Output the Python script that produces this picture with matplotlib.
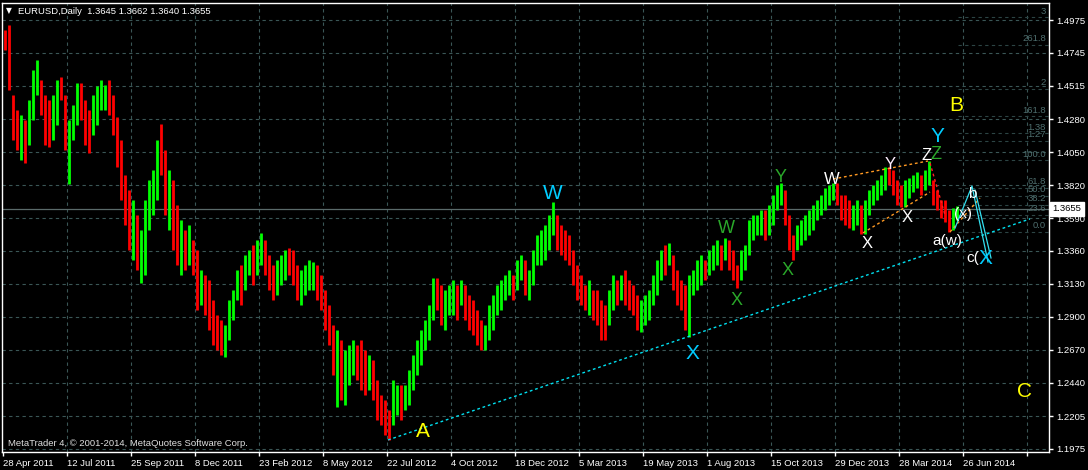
import matplotlib
matplotlib.use('Agg')
import numpy as np
import matplotlib.pyplot as plt

# EURUSD daily, grouped 4 bars per mark, first group starts 28 Apr 2011
highs = [1.4905, 1.4940, 1.4451, 1.4346, 1.4311, 1.4276, 1.4416, 1.4626, 1.4695, 1.4556,
         1.4451, 1.4416, 1.4451, 1.4556, 1.4577, 1.4451, 1.4276, 1.4381, 1.4535, 1.4535,
         1.4416, 1.4346, 1.4451, 1.4514, 1.4556, 1.4521, 1.4556, 1.4451, 1.4297, 1.4136,
         1.3891, 1.3786, 1.3716, 1.3611, 1.3507, 1.3716, 1.3856, 1.3926, 1.4136, 1.4248,
         1.4066, 1.3926, 1.3856, 1.3681, 1.3577, 1.3507, 1.3542, 1.3437, 1.3367, 1.3227,
         1.3192, 1.3157, 1.3017, 1.2912, 1.2877, 1.2842, 1.3017, 1.3087, 1.3227, 1.3262,
         1.3332, 1.3367, 1.3402, 1.3437, 1.3486, 1.3437, 1.3332, 1.3262, 1.3297, 1.3332,
         1.3367, 1.3381, 1.3367, 1.3262, 1.3227, 1.3262, 1.3297, 1.3283, 1.3262, 1.3192,
         1.3087, 1.2982, 1.2842, 1.2807, 1.2737, 1.2667, 1.2702, 1.2737, 1.2702, 1.2737,
         1.2667, 1.2632, 1.2597, 1.2458, 1.2353, 1.2318, 1.2248, 1.2458, 1.2423, 1.2423,
         1.2423, 1.2527, 1.2632, 1.2737, 1.2807, 1.2877, 1.2982, 1.3171, 1.3171, 1.3122,
         1.3087, 1.3122, 1.3157, 1.3122, 1.3157, 1.3122, 1.3052, 1.3017, 1.2947, 1.2877,
         1.2842, 1.2982, 1.3052, 1.3122, 1.3157, 1.3192, 1.3227, 1.3192, 1.3297, 1.3332,
         1.3297, 1.3227, 1.3367, 1.3472, 1.3507, 1.3542, 1.3611, 1.3702, 1.3611, 1.3542,
         1.3507, 1.3472, 1.3367, 1.3262, 1.3192, 1.3122, 1.3157, 1.3087, 1.3087, 1.3017,
         1.2982, 1.3087, 1.3192, 1.3157, 1.3192, 1.3227, 1.3157, 1.3122, 1.3052, 1.3017,
         1.3052, 1.3087, 1.3192, 1.3297, 1.3367, 1.3402, 1.3416, 1.3332, 1.3227, 1.3157,
         1.3122, 1.3192, 1.3227, 1.3297, 1.3332, 1.3297, 1.3367, 1.3402, 1.3437, 1.3402,
         1.3451, 1.3437, 1.3367, 1.3262, 1.3367, 1.3402, 1.3577, 1.3611, 1.3611, 1.3646,
         1.3646, 1.3681, 1.3751, 1.3821, 1.3835, 1.3786, 1.3611, 1.3472, 1.3542, 1.3577,
         1.3611, 1.3646, 1.3681, 1.3716, 1.3751, 1.3800, 1.3821, 1.3835, 1.3835, 1.3751,
         1.3751, 1.3716, 1.3681, 1.3716, 1.3681, 1.3716, 1.3786, 1.3821, 1.3856, 1.3891,
         1.3947, 1.3947, 1.3926, 1.3856, 1.3821, 1.3856, 1.3870, 1.3891, 1.3912, 1.3891,
         1.3926, 1.3989, 1.3856, 1.3786, 1.3716, 1.3716, 1.3646, 1.3660, 1.3674]
lows = [1.4765, 1.4486, 1.4136, 1.4066, 1.3996, 1.3975, 1.4101, 1.4276, 1.4451, 1.4311,
        1.4101, 1.4087, 1.4136, 1.4241, 1.4416, 1.4066, 1.3828, 1.4136, 1.4241, 1.4276,
        1.4101, 1.4045, 1.4171, 1.4241, 1.4346, 1.4346, 1.4311, 1.4171, 1.3947, 1.3716,
        1.3542, 1.3367, 1.3297, 1.3227, 1.3136, 1.3192, 1.3507, 1.3611, 1.3716, 1.3891,
        1.3611, 1.3507, 1.3367, 1.3262, 1.3192, 1.3227, 1.3262, 1.3192, 1.2947, 1.2982,
        1.2912, 1.2807, 1.2702, 1.2667, 1.2632, 1.2618, 1.2737, 1.2877, 1.3017, 1.2982,
        1.3087, 1.3192, 1.3122, 1.3192, 1.3262, 1.3192, 1.3087, 1.3017, 1.3052, 1.3122,
        1.3157, 1.3192, 1.3122, 1.3017, 1.2982, 1.3052, 1.3087, 1.3087, 1.3017, 1.2947,
        1.2807, 1.2702, 1.2493, 1.2269, 1.2318, 1.2283, 1.2423, 1.2493, 1.2458, 1.2388,
        1.2353, 1.2388, 1.2318, 1.2178, 1.2143, 1.2073, 1.2038, 1.2143, 1.2213, 1.2178,
        1.2248, 1.2283, 1.2388, 1.2493, 1.2562, 1.2667, 1.2737, 1.2877, 1.2947, 1.2842,
        1.2807, 1.2912, 1.2912, 1.2877, 1.2982, 1.2877, 1.2807, 1.2772, 1.2702, 1.2667,
        1.2667, 1.2737, 1.2807, 1.2912, 1.2947, 1.3017, 1.3052, 1.3017, 1.3087, 1.3157,
        1.3052, 1.3017, 1.3122, 1.3262, 1.3262, 1.3297, 1.3367, 1.3472, 1.3367, 1.3332,
        1.3297, 1.3262, 1.3122, 1.3017, 1.2982, 1.2947, 1.2912, 1.2877, 1.2842, 1.2737,
        1.2737, 1.2842, 1.2947, 1.2982, 1.3017, 1.2982, 1.2947, 1.2912, 1.2807, 1.2793,
        1.2842, 1.2877, 1.2982, 1.3052, 1.3157, 1.3192, 1.3262, 1.3087, 1.2982, 1.2947,
        1.2807, 1.2758, 1.3052, 1.3087, 1.3122, 1.3157, 1.3192, 1.3227, 1.3262, 1.3227,
        1.3297, 1.3227, 1.3157, 1.3101, 1.3157, 1.3227, 1.3332, 1.3437, 1.3472, 1.3472,
        1.3437, 1.3472, 1.3542, 1.3646, 1.3681, 1.3542, 1.3367, 1.3297, 1.3367, 1.3402,
        1.3437, 1.3472, 1.3507, 1.3577, 1.3611, 1.3646, 1.3681, 1.3716, 1.3681, 1.3577,
        1.3542, 1.3521, 1.3507, 1.3542, 1.3479, 1.3479, 1.3611, 1.3681, 1.3716, 1.3751,
        1.3786, 1.3821, 1.3751, 1.3681, 1.3667, 1.3667, 1.3730, 1.3772, 1.3800, 1.3751,
        1.3786, 1.3821, 1.3681, 1.3646, 1.3591, 1.3563, 1.3493, 1.3507, 1.3577]
closes = [1.4835, 1.4521, 1.4276, 1.4136, 1.4206, 1.4136, 1.4346, 1.4556, 1.4556, 1.4346,
          1.4276, 1.4206, 1.4346, 1.4486, 1.4451, 1.4136, 1.4206, 1.4311, 1.4451, 1.4346,
          1.4276, 1.4241, 1.4416, 1.4451, 1.4451, 1.4486, 1.4416, 1.4241, 1.4066, 1.3786,
          1.3611, 1.3472, 1.3577, 1.3297, 1.3437, 1.3646, 1.3751, 1.3821, 1.4066, 1.3961,
          1.3716, 1.3786, 1.3507, 1.3402, 1.3437, 1.3367, 1.3367, 1.3262, 1.3087, 1.3122,
          1.3017, 1.2877, 1.2807, 1.2737, 1.2702, 1.2807, 1.2947, 1.3017, 1.3192, 1.3087,
          1.3262, 1.3297, 1.3227, 1.3367, 1.3402, 1.3297, 1.3157, 1.3122, 1.3192, 1.3262,
          1.3332, 1.3297, 1.3192, 1.3087, 1.3157, 1.3192, 1.3192, 1.3227, 1.3087, 1.3017,
          1.2877, 1.2772, 1.2597, 1.2702, 1.2458, 1.2527, 1.2632, 1.2667, 1.2597, 1.2527,
          1.2458, 1.2493, 1.2388, 1.2318, 1.2248, 1.2178, 1.2143, 1.2318, 1.2353, 1.2248,
          1.2353, 1.2458, 1.2597, 1.2632, 1.2737, 1.2807, 1.2947, 1.3122, 1.3017, 1.2947,
          1.2982, 1.3017, 1.3052, 1.2947, 1.3087, 1.2982, 1.2912, 1.2842, 1.2807, 1.2772,
          1.2807, 1.2912, 1.3017, 1.3087, 1.3087, 1.3122, 1.3157, 1.3122, 1.3227, 1.3262,
          1.3122, 1.3122, 1.3297, 1.3402, 1.3402, 1.3437, 1.3542, 1.3611, 1.3472, 1.3437,
          1.3402, 1.3332, 1.3227, 1.3087, 1.3052, 1.3017, 1.3017, 1.2982, 1.2912, 1.2877,
          1.2842, 1.3017, 1.3122, 1.3052, 1.3122, 1.3052, 1.3017, 1.2982, 1.2877, 1.2912,
          1.2947, 1.3017, 1.3122, 1.3227, 1.3332, 1.3297, 1.3332, 1.3157, 1.3087, 1.3017,
          1.2982, 1.3122, 1.3157, 1.3227, 1.3262, 1.3227, 1.3332, 1.3332, 1.3367, 1.3332,
          1.3402, 1.3297, 1.3227, 1.3192, 1.3297, 1.3367, 1.3542, 1.3542, 1.3577, 1.3577,
          1.3507, 1.3611, 1.3716, 1.3786, 1.3786, 1.3611, 1.3437, 1.3402, 1.3472, 1.3542,
          1.3577, 1.3611, 1.3646, 1.3681, 1.3716, 1.3751, 1.3751, 1.3786, 1.3716, 1.3646,
          1.3611, 1.3577, 1.3611, 1.3646, 1.3542, 1.3681, 1.3716, 1.3786, 1.3821, 1.3821,
          1.3912, 1.3891, 1.3786, 1.3751, 1.3716, 1.3786, 1.3821, 1.3856, 1.3856, 1.3821,
          1.3891, 1.3891, 1.3751, 1.3681, 1.3646, 1.3611, 1.3577, 1.3611, 1.3655]
first_open = 1.4860
bars_per_mark = 4

price_ticks = [1.4975, 1.4745, 1.4515, 1.4280, 1.4050, 1.3820, 1.3590,
               1.3360, 1.3130, 1.2900, 1.2670, 1.2440, 1.2205, 1.1975]
date_labels = ['28 Apr 2011', '12 Jul 2011', '25 Sep 2011', '8 Dec 2011', '23 Feb 2012',
               '8 May 2012', '22 Jul 2012', '4 Oct 2012', '18 Dec 2012', '5 Mar 2013',
               '19 May 2013', '1 Aug 2013', '15 Oct 2013', '29 Dec 2013', '28 Mar 2014',
               '26 Jun 2014', '']
bars_per_label = 64
last_price = 1.3655

# fibo from the May 2014 top down to the 0.0 level
fib_low, fib_high = 1.3493, 1.3993
fib_ratios = [0.0, 0.236, 0.382, 0.5, 0.618, 1.0, 1.27, 1.38, 1.618, 2.0, 2.618, 3.0]
fib_names = ['0.0', '23.6', '38.2', '50.0', '61.8', '100.0', '1.27', '1.38',
             '161.8', '2', '261.8', '3']

# trendline A -> X (bar, price)
trend_bars = [385, 684, 1027]
trend_prices = [1.2038, 1.2758, 1.3584]

# wave labels: text, bar, price, colour, size
waves = [
    ('A', 420, 1.2094, '#ffff00', 15), ('B', 953, 1.4374, '#ffff00', 15),
    ('C', 1022, 1.2374, '#ffff00', 15),
    ('W', 550, 1.3765, '#00ccff', 15), ('X', 689, 1.2646, '#00ccff', 15),
    ('Y', 934, 1.4157, '#00ccff', 15),
    ('W', 723, 1.3520, '#2aa82a', 13), ('X', 734, 1.3010, '#2aa82a', 13),
    ('Y', 778, 1.3877, '#2aa82a', 13), ('X', 785, 1.3220, '#2aa82a', 13),
    ('W', 829, 1.3863, '#ffffff', 12), ('X', 864, 1.3409, '#ffffff', 12),
    ('Y', 887, 1.3968, '#ffeeff', 12), ('X', 904, 1.3597, '#ffffff', 12),
    ('Z', 924, 1.4031, '#ffffff', 12), ('Z', 933, 1.4038, '#2aa82a', 13),
    ('b', 969, 1.3758, '#ffffff', 11), ('(x)', 960, 1.3618, '#ffffff', 11),
    ('a(w)', 944, 1.3430, '#ffffff', 11), ('c(', 970, 1.3311, '#ffffff', 11),
    ('X', 982, 1.3304, '#00ccff', 15),
]

# helper lines (bar, price pairs)
orange_lines = [([830, 925], [1.3863, 1.3989]), ([860, 927], [1.3486, 1.3772]),
                ([947, 977], [1.3493, 1.3730])]
red_line = ([927, 942], [1.3975, 1.3611])
cyan_paths = [([952, 969, 985], [1.3520, 1.3814, 1.3283]),
              ([972, 988], [1.3786, 1.3311])]

GRID = '#3a5656'
FONT = 'Liberation Sans'

fig = plt.figure(figsize=(10.88, 4.70), dpi=100, facecolor='black')
ax = fig.add_axes([2 / 1088, 18 / 470, 1047 / 1088, 449 / 470])
ax.set_facecolor('black')
ax.set_xlim(-1, 1046)
ax.set_ylim(1.1954, 1.5094)

# grid
for p in price_ticks:
    ax.axhline(p, color=GRID, lw=0.8, dashes=(3, 3), zorder=1)
for k in range(1, len(date_labels)):
    ax.axvline(k * bars_per_label, color=GRID, lw=0.8, dashes=(3, 3), zorder=1)

# fibo levels
for r, name in zip(fib_ratios, fib_names):
    lvl = fib_low + r * (fib_high - fib_low)
    ax.plot([955, 1046], [lvl, lvl], color='#2c4444', lw=0.8, dashes=(3, 3), zorder=1)
    ax.text(1043, lvl + 0.0012, name, color='#4e6e6e', fontsize=6.8, family=FONT,
            ha='right', va='bottom', zorder=2)

# last price line
ax.axhline(last_price, color='#5a6a6a', lw=0.9, zorder=1)

# bars
opens = [first_open] + closes[:-1]
xs = np.arange(len(highs)) * bars_per_mark + 1.5
cols = ['#00ff00' if c >= o else '#ff0000' for o, c in zip(opens, closes)]
ax.vlines(xs, lows, highs, colors=cols, lw=2.0, zorder=3)

# drawn objects
ax.plot(trend_bars, trend_prices, color='#00e0f0', lw=1, dashes=(2, 2), zorder=4)
for bx, py in orange_lines:
    ax.plot(bx, py, color='#ff9922', lw=1, dashes=(2, 2), zorder=4)
ax.plot(red_line[0], red_line[1], color='#ff2020', lw=1, dashes=(2, 2), zorder=4)
for bx, py in cyan_paths:
    ax.plot(bx, py, color='#33e0f0', lw=0.9, zorder=4)

for txt, bx, py, col, size in waves:
    ax.text(bx, py, txt, color=col, fontsize=size, family=FONT,
            ha='center', va='center', zorder=5)

# axes
for s in ax.spines.values():
    s.set_color('white')
    s.set_linewidth(1)
ax.yaxis.tick_right()
ax.set_yticks(price_ticks)
ax.set_yticklabels(['%.4f' % p for p in price_ticks])
ax.set_xticks(np.arange(len(date_labels)) * bars_per_label)
ax.set_xticklabels(date_labels, ha='left')
ax.tick_params(colors='white', labelcolor='white', length=3, width=1, labelsize=6.8, pad=2)
for lab in ax.get_xticklabels() + ax.get_yticklabels():
    lab.set_family(FONT)

# current price tag
ax.text(1.0035, last_price, '%.4f' % last_price, transform=ax.get_yaxis_transform(),
        color='black', fontsize=6.8, family=FONT, va='center', ha='left',
        bbox=dict(boxstyle='square,pad=0.25', fc='white', ec='white'), zorder=6, clip_on=False)

fig.text(9 / 1088, 1 - 11 / 470, '\u25bc', color='white', fontsize=5.5, va='center', ha='center')
fig.text(18 / 1088, 1 - 11 / 470, 'EURUSD,Daily  1.3645 1.3662 1.3640 1.3655',
         color='white', fontsize=6.8, family=FONT, va='center', ha='left')
ax.text(5, 1.2012, 'MetaTrader 4, \u00a9 2001-2014, MetaQuotes Software Corp.',
        color='#e0e0e0', fontsize=6.8, family=FONT, va='center', ha='left')

fig.savefig('out.png', dpi=100, facecolor='black')
